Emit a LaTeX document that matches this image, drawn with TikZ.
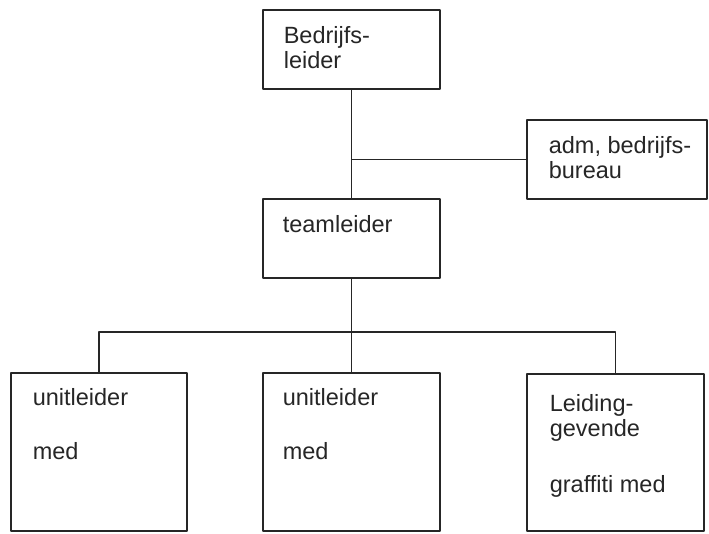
\documentclass[tikz,border=0pt]{standalone}
\usepackage{fontspec}
\setmainfont{Liberation Sans}
\begin{document}
\begin{tikzpicture}[x=1pt, y=-1pt, color=black!85, line width=1.6pt, line join=round,
    box/.style={draw, inner sep=0pt, outer sep=0pt},
    txt/.style={anchor=base west, align=left, inner sep=0pt, font=\fontsize{23.5}{25}\selectfont}]
  \useasboundingbox (0,0) rectangle (709,533);
  % boxes
  \node[box, minimum width=177pt, minimum height=79pt] (boss) at (351.5,49.5) {};
  \node[box, minimum width=180pt, minimum height=79pt] (adm) at (617,159.5) {};
  \node[box, minimum width=177pt, minimum height=79pt] (team) at (351.5,238.5) {};
  \node[box, minimum width=176pt, minimum height=158pt] (unitA) at (99,452) {};
  \node[box, minimum width=177pt, minimum height=158pt] (unitB) at (351.5,452) {};
  \node[box, minimum width=177pt, minimum height=157pt] (graf) at (615.5,452.5) {};
  % texts (base = last line)
  \node[txt] (bossT) at ([shift={(20,58)}]boss.north west) {Bedrijfs-\\leider};
  \node[txt] (admT) at ([shift={(21,58)}]adm.north west) {adm, bedrijfs-\\bureau};
  \node[txt] (teamT) at ([shift={(19,33)}]team.north west) {teamleider};
  \node[txt] (unitAT) at ([shift={(21,86.5)}]unitA.north west) {unitleider\\[29pt]med};
  \node[txt] (unitBT) at ([shift={(19,86.5)}]unitB.north west) {unitleider\\[29pt]med};
  \node[txt] (grafT) at ([shift={(22,118)}]graf.north west) {Leiding-\\gevende\\[31pt]graffiti med};
  % lines
  \coordinate (bus) at (351.5,332);
  \draw (boss) -- (team);
  \draw (adm) -- (adm -| boss);
  \draw (team) -- (bus);
  \draw (unitA) |- (bus) -| (graf);
  \draw (bus) -- (unitB);
\end{tikzpicture}
\end{document}
